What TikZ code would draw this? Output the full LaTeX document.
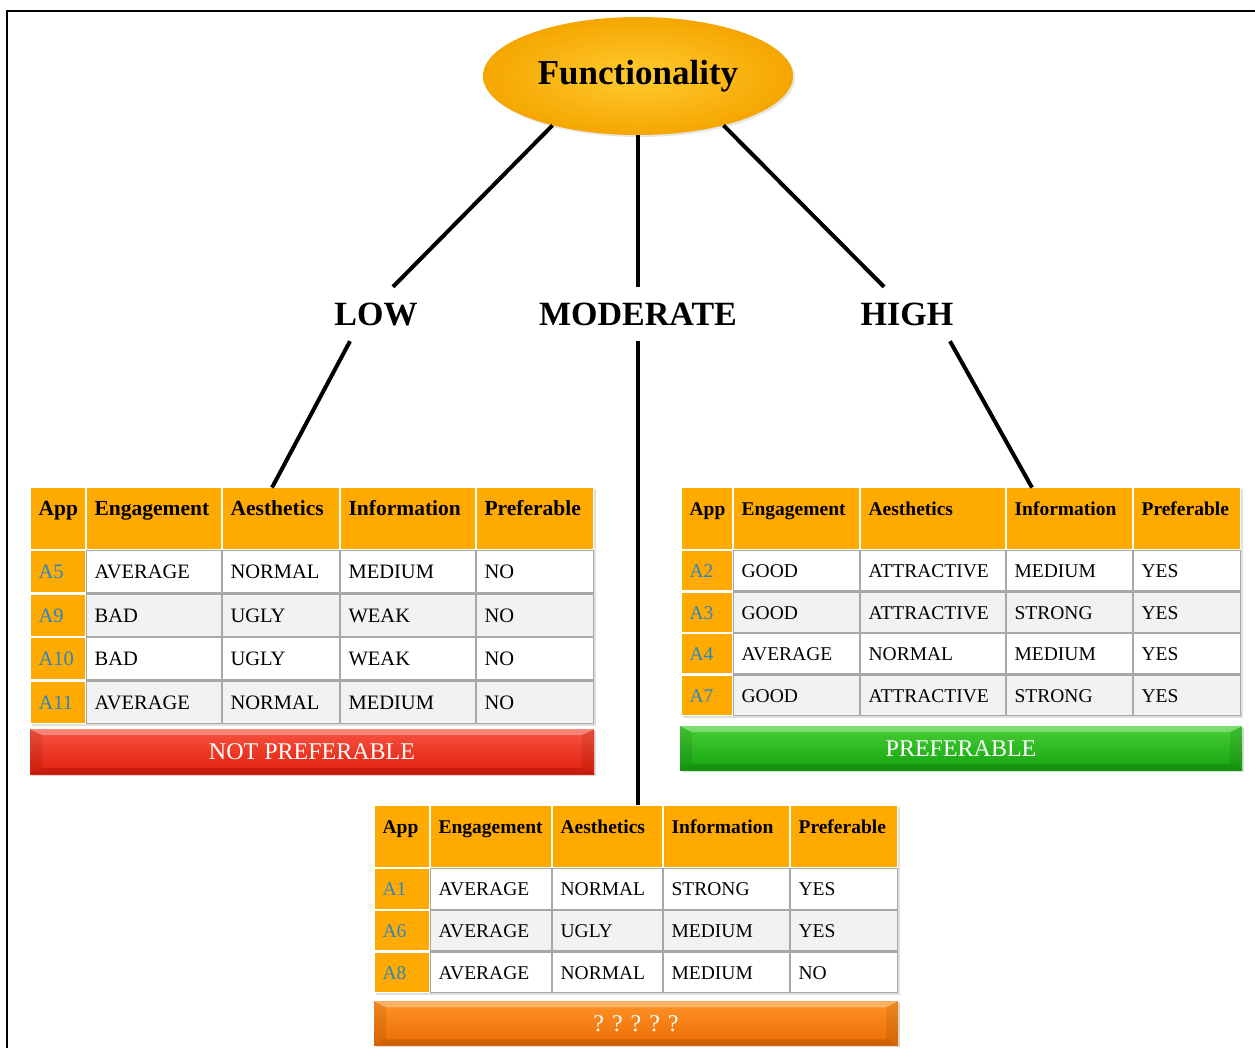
\documentclass[tikz,border=0pt]{standalone}
\usepackage{fontspec}
\setmainfont{Liberation Serif}
\usetikzlibrary{positioning, shapes.geometric, shadows, matrix}

\definecolor{headorange}{HTML}{FFAA00}
\definecolor{appblue}{HTML}{2A86C2}
\definecolor{rowgray}{HTML}{F2F2F2}
\definecolor{cellline}{HTML}{A8A8A8}
\definecolor{goldlight}{HTML}{FFCB30}
\definecolor{golddark}{HTML}{F5A600}
\definecolor{redlite}{HTML}{F75441}
\definecolor{redmain}{HTML}{E11D0B}
\definecolor{greenlite}{HTML}{47CF36}
\definecolor{greenmain}{HTML}{15A30F}
\definecolor{orangelite}{HTML}{FF9328}
\definecolor{orangemain}{HTML}{EA6C02}

\newcommand{\bodysz}{\fontsize{20.5}{24}\selectfont}
\newcommand{\headsz}{\fontsize{21.5}{25}\selectfont}

\begin{document}
\begin{tikzpicture}[
    x=1pt, y=-1pt,
    branchline/.style={line width=4pt, black},
    grade/.style={font=\bfseries\fontsize{34}{40}\selectfont, text height=22.5pt, text depth=0pt, minimum height=54pt, inner xsep=2pt},
    tcell/.style={draw=cellline, line width=1.2pt, fill=white, text=black, inner xsep=8pt, outer sep=0pt, align=left, text height=15pt, text depth=1.5pt, font=\bodysz},
    thead/.style={tcell, draw=white, fill=headorange, font=\bfseries\headsz, text height=16pt, text depth=23pt, inner ysep=11.4pt},
    tapp/.style={tcell, draw=white, fill=headorange, text=appblue},
    colw/.style n args={5}{column 1/.append style={nodes={text width=#1}}, column 2/.append style={nodes={text width=#2}},
        column 3/.append style={nodes={text width=#3}}, column 4/.append style={nodes={text width=#4}},
        column 5/.append style={nodes={text width=#5}}},
    apptable/.style={matrix of nodes, inner sep=0pt, outer sep=0pt, column sep=0pt, row sep=0pt,
        nodes={tcell}, column 1/.style={nodes={tapp}}, row 1/.style={nodes={thead}},
        row 3/.style={nodes={tcell, fill=rowgray}}, row 5/.style={nodes={tcell, fill=rowgray}},
        row 3 column 1/.style={nodes={tapp}}, row 5 column 1/.style={nodes={tapp}},
        drop shadow={opacity=.25, shadow xshift=2pt, shadow yshift=-2pt}},
    bevel/.style={path picture={
        \path (path picture bounding box.north west) coordinate (b1)
              (path picture bounding box.south east) coordinate (b2);
        \fill[white, opacity=.3] (b1) -- (b1 -| b2) -- ([shift={(-12,6)}]b1 -| b2) -- ([shift={(12,6)}]b1) -- cycle;
        \fill[black, opacity=.08] (b1) -- ([shift={(12,6)}]b1) -- ([shift={(12,-6)}]b1 |- b2) -- (b1 |- b2) -- cycle;
        \fill[black, opacity=.08] (b1 -| b2) -- ([shift={(-12,6)}]b1 -| b2) -- ([shift={(-12,-6)}]b2) -- (b2) -- cycle;
        \fill[black, opacity=.12] (b1 |- b2) -- ([shift={(12,-6)}]b1 |- b2) -- ([shift={(-12,-6)}]b2) -- (b2) -- cycle;
    }},
    barbox/.style={inner sep=0pt, text=white, font=\fontsize{24}{28}\selectfont, text height=16pt, text depth=0pt, bevel,
        drop shadow={opacity=.3, shadow xshift=2pt, shadow yshift=-2pt}},
]
    \useasboundingbox (0,0) rectangle (1255,1047);
    \draw[line width=2.5pt] (7,1060) -- (7,11) -- (1270,11);

    % root and levels
    \node[ellipse, minimum width=310pt, minimum height=118pt, inner color=goldlight, outer color=golddark,
          font=\bfseries\fontsize{35}{42}\selectfont, drop shadow={opacity=.2, shadow xshift=2pt, shadow yshift=-2pt}] (func) at (638,76) {Functionality};
    \node[grade] (low) at (376,314) {LOW};
    \node[grade] (mod) at (638,314) {MODERATE};
    \node[grade] (high) at (907,314) {HIGH};

    % low functionality
    \matrix (lt) [apptable, colw={38.8pt}{118.8pt}{100.8pt}{118.8pt}{100.8pt}, nodes={minimum height=42.3pt}, anchor=north west] at (30,487) {
        App & Engagement & Aesthetics & Information & Preferable \\
        A5  & AVERAGE & NORMAL & MEDIUM & NO \\
        A9  & BAD & UGLY & WEAK & NO \\
        A10 & BAD & UGLY & WEAK & NO \\
        A11 & AVERAGE & NORMAL & MEDIUM & NO \\
    };
    \node[barbox, minimum width=564pt, minimum height=45pt, top color=redlite, bottom color=redmain, below=5pt of lt] (lowbar) {NOT PREFERABLE};

    % high functionality
    \renewcommand{\bodysz}{\fontsize{19.5}{23}\selectfont}
    \renewcommand{\headsz}{\fontsize{19.5}{23}\selectfont}
    \matrix (rt) [apptable, colw={34.8pt}{109.8pt}{128.8pt}{109.8pt}{90.8pt}, nodes={minimum height=40.3pt}, anchor=north west] at (681,487) {
        App & Engagement & Aesthetics & Information & Preferable \\
        A2 & GOOD & ATTRACTIVE & MEDIUM & YES \\
        A3 & GOOD & ATTRACTIVE & STRONG & YES \\
        A4 & AVERAGE & NORMAL & MEDIUM & YES \\
        A7 & GOOD & ATTRACTIVE & STRONG & YES \\
    };
    \node[barbox, minimum width=562pt, minimum height=44pt, top color=greenlite, bottom color=greenmain, below=10pt of rt] (highbar) {PREFERABLE};

    % moderate functionality
    \matrix (mt) [apptable, colw={38.8pt}{104.8pt}{93.8pt}{109.8pt}{90.8pt}, nodes={minimum height=40.5pt}, anchor=north west] at (374,805) {
        App & Engagement & Aesthetics & Information & Preferable \\
        A1 & AVERAGE & NORMAL & STRONG & YES \\
        A6 & AVERAGE & UGLY & MEDIUM & YES \\
        A8 & AVERAGE & NORMAL & MEDIUM & NO \\
    };
    \node[barbox, minimum width=524pt, minimum height=44pt, top color=orangelite, bottom color=orangemain, below=8pt of mt] (modbar) {? ? ? ? ?};

    % branches
    \draw[branchline] (func.210.5) -- ([xshift=17pt]low.north);
    \draw[branchline] (func) -- (mod);
    \draw[branchline] (func.330) -- ([xshift=-23pt]high.north);
    \draw[branchline] ([xshift=-26pt]low.south) -- ([xshift=-9pt]lt-1-3.north);
    \draw[branchline] (mod) -- (mod |- mt.north);
    \draw[branchline] ([xshift=43pt]high.south) -- ([xshift=-37.5pt]rt-1-4.north);
\end{tikzpicture}
\end{document}
